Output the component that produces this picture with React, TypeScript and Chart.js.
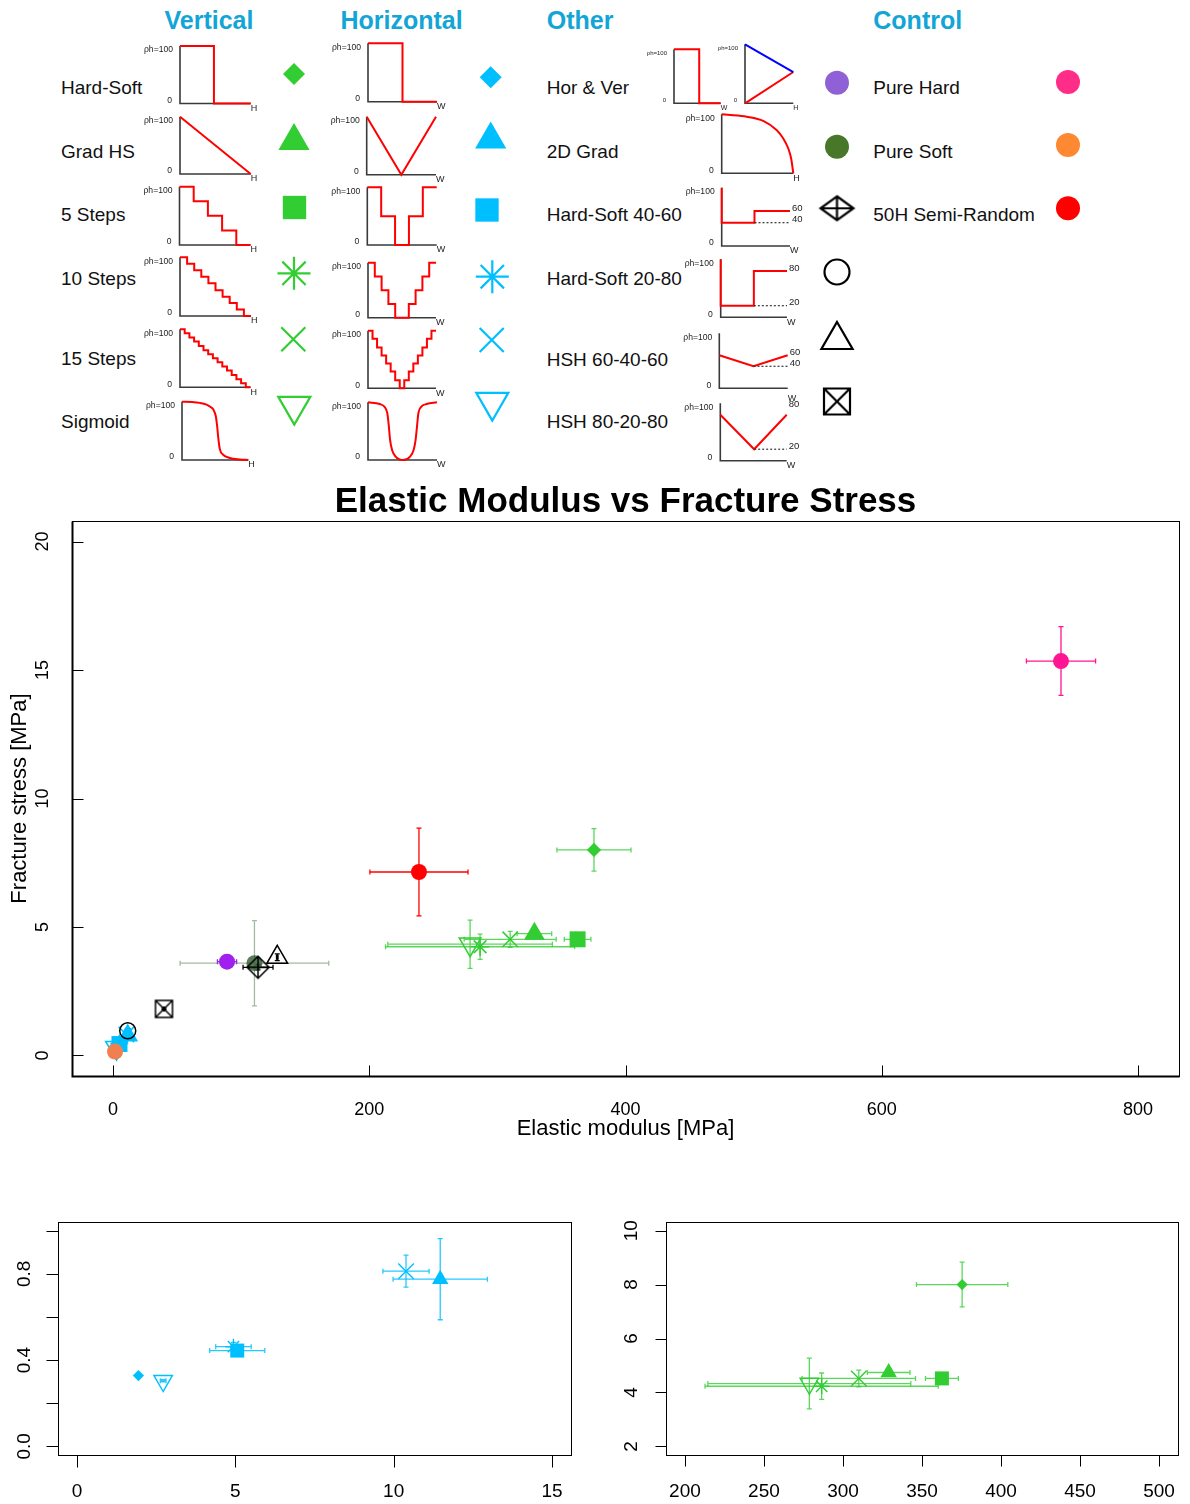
import React, { useEffect, useRef } from 'react';
import { Chart, registerables } from 'chart.js';

Chart.register(...registerables);

const FONT = '"Liberation Sans", Arial, Helvetica, sans-serif';

/* ============================ DATA ============================ */
const groupHeaders = ['Vertical', 'Horizontal', 'Other', 'Control'];
const verticalLabels = ['Hard-Soft', 'Grad HS', '5 Steps', '10 Steps', '15 Steps', 'Sigmoid'];
const otherLabels = ['Hor & Ver', '2D Grad', 'Hard-Soft 40-60', 'Hard-Soft 20-80', 'HSH 60-40-60', 'HSH 80-20-80'];
const controlLabels = ['Pure Hard', 'Pure Soft', '50H Semi-Random'];
const profileTopLabel = 'ρh=100';

// Elastic modulus [MPa] and fracture stress [MPa] (mean and error half-width)
const verticalModulus = [375.4, 328.9, 362.6, 286.5, 310.0, 278.7];
const verticalModulusErr = [28.9, 13.5, 10.4, 73.8, 35.9, 64.2];
const verticalStress = [8.0, 4.74, 4.52, 4.23, 4.52, 4.33];
const verticalStressErr = [0.83, 0.08, 0.08, 0.49, 0.31, 0.94];

const horizontalModulus = [1.94, 11.47, 5.06, 4.94, 10.39, 2.72];
const horizontalModulusErr = [0, 1.49, 0.87, 0.56, 0.73, 0.09];
const horizontalStress = [0.328, 0.775, 0.444, 0.462, 0.812, 0.304];
const horizontalStressErr = [0, 0.188, 0.01, 0.02, 0.074, 0.005];

const otherModulus = [89.0, 110.4, 113.2, 11.5, 128.2, 39.8];
const otherModulusErr = [7.5, 58.0, 11.7, 1.8, 0.6, 0.5];
const otherStress = [3.65, 3.59, 3.43, 0.96, 3.82, 1.81];
const otherStressErr = [0.05, 1.66, 0.1, 0.04, 0.13, 0.03];

const controlModulus = [739.9, 1.6, 238.8];
const controlModulusErr = [27.0, 0.5, 38.3];
const controlStress = [15.35, 0.15, 7.14];
const controlStressErr = [1.34, 0.02, 1.71];

// axis ticks
const mainXTicks = [0, 200, 400, 600, 800];
const mainYTicks = [0, 5, 10, 15, 20];
const horXTicks = [0, 5, 10, 15];
const horYTicks = [0, 0.2, 0.4, 0.6, 0.8, 1.0];
const horYTickLabels = ['0.0', '', '0.4', '', '0.8', ''];
const verXTicks = [200, 250, 300, 350, 400, 450, 500];
const verYTicks = [2, 4, 6, 8, 10];

// hardness profiles: x = fraction of H or W, y = ph (%)
const profVertHardSoft = { x: [0, 0.48, 0.48, 1], y: [100, 100, 0, 0] };
const profVertGrad = { x: [0, 1], y: [100, 0] };
const profVertSteps5 = [100, 75, 50, 25, 0];
const profVertSteps10 = [100, 89, 78, 67, 56, 44, 33, 22, 11, 0];
const profVertSteps15 = [100, 93, 86, 79, 71, 64, 57, 50, 43, 36, 29, 21, 14, 7, 0];
const profVertSigmoid = {
  x: [0, 0.15, 0.27, 0.37, 0.43, 0.47, 0.51, 0.53, 0.55, 0.57, 0.62, 0.72, 0.87, 1],
  y: [100, 99.5, 98, 95, 91, 87, 75, 58, 35, 19, 9, 3.5, 1, 0],
};
const profHorHardSoft = { x: [0, 0.5, 0.5, 1], y: [100, 100, 0, 0] };
const profHorGrad = { x: [0, 0.5, 1], y: [100, 0, 100] };
const profHorSteps5 = [100, 50, 0, 50, 100];
const profHorSteps10 = [100, 75, 50, 25, 0, 0, 25, 50, 75, 100];
const profHorSteps15 = [100, 86, 71, 57, 43, 29, 14, 0, 14, 29, 43, 57, 71, 86, 100];
const profHorSigmoid = {
  x: [0, 0.17, 0.24, 0.28, 0.3, 0.32, 0.35, 0.4, 0.51, 0.61, 0.66, 0.69, 0.71, 0.73, 0.77, 0.85, 1],
  y: [100, 97, 92, 81, 61, 35, 17, 6, 0, 6, 17, 35, 58, 81, 92, 97, 100],
};
const profHorVerA = { x: [0, 0.54, 0.54, 1], y: [100, 100, 0, 0] };
const profHorVerBTop = { x: [0, 1], y: [100, 53] };
const profHorVerBBottom = { x: [0, 1], y: [0, 53] };
const prof2DGrad = {
  x: [0, 0.12, 0.35, 0.58, 0.77, 0.86, 0.93, 0.97, 1],
  y: [100, 99, 96, 89, 73, 59, 42, 25, 0],
};
const profHS4060 = { x: [0, 0, 0.48, 0.48, 1], y: [100, 40, 40, 60, 60] };
const profHS4060Base = { x: [0.48, 1], y: [40, 40] };
const profHS2080 = { x: [0, 0, 0.5, 0.5, 1], y: [100, 20, 20, 80, 80] };
const profHS2080Base = { x: [0.5, 1], y: [20, 20] };
const profHSH604060 = { x: [0, 0.5, 1], y: [60, 40, 60] };
const profHSH604060Base = { x: [0.5, 1], y: [40, 40] };
const profHSH802080 = { x: [0, 0.51, 1], y: [80, 20, 80] };
const profHSH802080Base = { x: [0.51, 1], y: [20, 20] };

/* ============================ STYLES ============================ */
type Kind =
  | 'diamond' | 'triangle' | 'square' | 'asterisk' | 'cross' | 'downTriangle'
  | 'filledCircle' | 'openCircle' | 'openTriangle' | 'diamondPlus' | 'boxedCross';

const stepMarkers: Kind[] = ['diamond', 'triangle', 'square', 'asterisk', 'cross', 'downTriangle'];
const otherMarkers: Kind[] = ['filledCircle', 'filledCircle', 'diamondPlus', 'openCircle', 'openTriangle', 'boxedCross'];
const controlMarkers: Kind[] = ['filledCircle', 'filledCircle', 'filledCircle'];

const HEADER_COLOR = '#12A5D5';
const GREEN = '#32CD32';
const GREEN_ERR = 'rgba(50,205,50,0.8)';
const BLUE = '#00BFFF';
const BLUE_ERR = 'rgba(0,191,255,0.85)';
const otherColors = ['#A020F0', 'rgba(50,90,50,0.8)', '#000000', '#000000', '#000000', '#000000'];
const otherErrColors = ['#A020F0', 'rgba(90,130,90,0.55)', '#000000', '#000000', '#000000', '#000000'];
const controlColors = ['#FF1493', '#F08050', '#FF0000'];
const controlErrColors = ['#FF1493', '#F08050', '#FF0000'];
const otherLegendColors = ['#9061D6', '#48772A', '#000000', '#000000', '#000000', '#000000'];
const controlLegendColors = ['#FF2D87', '#FF8833', '#FF0000'];

type Sizes = { [k: string]: any };
const SIZE_MAIN: Sizes = {
  diamond: 7.2, triangle: 12, square: 11.3, asterisk: 9, cross: 10.9, downTriangle: 12.5,
  filledCircle: 8, openCircle: 8, openTriangle: 12, diamondPlus: [22, 22], boxedCross: [17, 17], lw: 1.5,
};
const SIZE_ZOOM: Sizes = {
  diamond: 5.6, triangle: 9.5, square: 9.9, asterisk: 8, cross: 11, downTriangle: 10.7,
  filledCircle: 8, openCircle: 8, openTriangle: 10, diamondPlus: [20, 20], boxedCross: [16, 16], lw: 1.4,
};
const SIZE_LEGEND: Sizes = {
  diamond: 11, triangle: 18, square: 16.5, asterisk: 16.5, cross: 17, downTriangle: 18.5,
  filledCircle: 12, openCircle: 12.5, openTriangle: 18, diamondPlus: [33, 24], boxedCross: [26, 26], lw: 2.2,
};

const glyphCache: { [k: string]: HTMLCanvasElement } = {};
function glyph(kind: string, w: number, h: number, lw: number, color: string) {
  const key = [kind, w, h, lw, color].join('|');
  if (glyphCache[key]) return glyphCache[key];
  const pad = Math.ceil(lw);
  const c = document.createElement('canvas');
  c.width = Math.round(w + 2 * pad);
  c.height = Math.round(h + 2 * pad);
  const g = c.getContext('2d')!;
  g.strokeStyle = color;
  g.lineWidth = lw;
  const x0 = pad, y0 = pad, x1 = pad + w, y1 = pad + h;
  const cx = (x0 + x1) / 2, cy = (y0 + y1) / 2;
  g.beginPath();
  if (kind === 'diamondPlus') {
    g.moveTo(cx, y0); g.lineTo(x1, cy); g.lineTo(cx, y1); g.lineTo(x0, cy); g.closePath();
    g.moveTo(cx, y0); g.lineTo(cx, y1);
    g.moveTo(x0, cy); g.lineTo(x1, cy);
  } else {
    g.rect(x0, y0, w, h);
    g.moveTo(x0, y0); g.lineTo(x1, y1);
    g.moveTo(x1, y0); g.lineTo(x0, y1);
  }
  g.stroke();
  glyphCache[key] = c;
  return c;
}

const NONE = 'rgba(0,0,0,0)';
function markerOptions(kind: Kind, s: Sizes, color: string) {
  const lw = s.lw;
  switch (kind) {
    case 'diamond': return { style: 'rectRot', r: s.diamond, rot: 0, bg: color, bc: color, bw: 0 };
    case 'triangle': return { style: 'triangle', r: s.triangle, rot: 0, bg: color, bc: color, bw: 0 };
    case 'square': return { style: 'rect', r: s.square, rot: 0, bg: color, bc: color, bw: 0 };
    case 'asterisk': return { style: 'star', r: s.asterisk, rot: 0, bg: NONE, bc: color, bw: lw };
    case 'cross': return { style: 'crossRot', r: s.cross, rot: 0, bg: NONE, bc: color, bw: lw };
    case 'downTriangle': return { style: 'triangle', r: s.downTriangle, rot: 180, bg: NONE, bc: color, bw: lw };
    case 'filledCircle': return { style: 'circle', r: s.filledCircle, rot: 0, bg: color, bc: color, bw: 0 };
    case 'openCircle': return { style: 'circle', r: s.openCircle, rot: 0, bg: NONE, bc: color, bw: lw };
    case 'openTriangle': return { style: 'triangle', r: s.openTriangle, rot: 0, bg: NONE, bc: color, bw: lw };
    case 'diamondPlus':
      return { style: glyph('diamondPlus', s.diamondPlus[0], s.diamondPlus[1], lw, color), r: 10, rot: 0, bg: NONE, bc: color, bw: 0 };
    default:
      return { style: glyph('boxedCross', s.boxedCross[0], s.boxedCross[1], lw, color), r: 10, rot: 0, bg: NONE, bc: color, bw: 0 };
  }
}

function scatterDataset(
  xs: number[], ys: number[], exs: number[], eys: number[],
  kinds: Kind[], colors: string[], errColors: string[], sizes: Sizes,
) {
  const m = kinds.map((k, i) => markerOptions(k, sizes, colors[i]));
  return {
    data: xs.map((x, i) => ({ x, y: ys[i] })),
    pointStyle: m.map((o) => o.style),
    pointRadius: m.map((o) => o.r),
    pointHoverRadius: m.map((o) => o.r),
    pointRotation: m.map((o) => o.rot),
    pointBackgroundColor: m.map((o) => o.bg),
    pointBorderColor: m.map((o) => o.bc),
    pointBorderWidth: m.map((o) => o.bw),
    showLine: false,
    clip: false,
    errX: exs,
    errY: eys,
    errColor: errColors,
  };
}

/* ============================ PLUGINS ============================ */
function makeErrorBarPlugin(lineWidth: number, cap: number) {
  return {
    id: 'errorBars',
    beforeDatasetsDraw(chart: any) {
      const ctx = chart.ctx;
      const xs = chart.scales.x, ys = chart.scales.y;
      ctx.save();
      ctx.lineWidth = lineWidth;
      chart.data.datasets.forEach((ds: any) => {
        ds.data.forEach((p: any, i: number) => {
          const ex = ds.errX ? ds.errX[i] : 0;
          const ey = ds.errY ? ds.errY[i] : 0;
          const px = xs.getPixelForValue(p.x), py = ys.getPixelForValue(p.y);
          ctx.strokeStyle = ds.errColor[i];
          ctx.beginPath();
          if (ex > 0) {
            const a = xs.getPixelForValue(p.x - ex), b = xs.getPixelForValue(p.x + ex);
            ctx.moveTo(a, py); ctx.lineTo(b, py);
            ctx.moveTo(a, py - cap); ctx.lineTo(a, py + cap);
            ctx.moveTo(b, py - cap); ctx.lineTo(b, py + cap);
          }
          if (ey > 0) {
            const a = ys.getPixelForValue(p.y - ey), b = ys.getPixelForValue(p.y + ey);
            ctx.moveTo(px, a); ctx.lineTo(px, b);
            ctx.moveTo(px - cap, a); ctx.lineTo(px + cap, a);
            ctx.moveTo(px - cap, b); ctx.lineTo(px + cap, b);
          }
          ctx.stroke();
        });
      });
      ctx.restore();
    },
  };
}

type AxesCfg = {
  xTicks: number[]; xTickLabels: string[]; yTicks: number[]; yTickLabels: string[];
  tickDir: number; tickLen: number; heavy: boolean; tickFont: number;
  xLabelBaseline: number; yLabelBaseline: number;
  title?: string; titleFont?: number; titleBaseline?: number;
  xTitle?: string; xTitleBaseline?: number; yTitle?: string; yTitleBaseline?: number; axisTitleFont?: number;
};

function makeAxesPlugin(cfg: AxesCfg) {
  return {
    id: 'rAxes',
    afterDraw(chart: any) {
      const ctx = chart.ctx;
      const a = chart.chartArea;
      const xs = chart.scales.x, ys = chart.scales.y;
      const L = Math.round(a.left) + 0.5, R = Math.round(a.right) + 0.5;
      const T = Math.round(a.top) + 0.5, B = Math.round(a.bottom) + 0.5;
      ctx.save();
      ctx.strokeStyle = '#000';
      ctx.fillStyle = '#000';
      ctx.lineWidth = 1;
      ctx.strokeRect(L, T, R - L, B - T);
      if (cfg.heavy) {
        ctx.lineWidth = 2;
        ctx.beginPath();
        ctx.moveTo(L, T); ctx.lineTo(L, B); ctx.lineTo(R, B);
        ctx.stroke();
      }
      ctx.lineWidth = 1;
      ctx.beginPath();
      cfg.xTicks.forEach((v) => {
        const px = Math.round(xs.getPixelForValue(v)) + 0.5;
        ctx.moveTo(px, B); ctx.lineTo(px, B + cfg.tickDir * cfg.tickLen);
      });
      cfg.yTicks.forEach((v) => {
        const py = Math.round(ys.getPixelForValue(v)) + 0.5;
        ctx.moveTo(L, py); ctx.lineTo(L - cfg.tickDir * cfg.tickLen, py);
      });
      ctx.stroke();

      ctx.font = `${cfg.tickFont}px ${FONT}`;
      ctx.textAlign = 'center';
      ctx.textBaseline = 'alphabetic';
      cfg.xTicks.forEach((v, i) => {
        const t = cfg.xTickLabels[i];
        if (t) ctx.fillText(t, xs.getPixelForValue(v), cfg.xLabelBaseline);
      });
      cfg.yTicks.forEach((v, i) => {
        const t = cfg.yTickLabels[i];
        if (!t) return;
        ctx.save();
        ctx.translate(cfg.yLabelBaseline, ys.getPixelForValue(v));
        ctx.rotate(-Math.PI / 2);
        ctx.fillText(t, 0, 0);
        ctx.restore();
      });
      if (cfg.title) {
        ctx.font = `bold ${cfg.titleFont}px ${FONT}`;
        ctx.fillText(cfg.title, (a.left + a.right) / 2, cfg.titleBaseline!);
      }
      if (cfg.xTitle) {
        ctx.font = `${cfg.axisTitleFont}px ${FONT}`;
        ctx.fillText(cfg.xTitle, (a.left + a.right) / 2, cfg.xTitleBaseline!);
      }
      if (cfg.yTitle) {
        ctx.font = `${cfg.axisTitleFont}px ${FONT}`;
        ctx.save();
        ctx.translate(cfg.yTitleBaseline!, (a.top + a.bottom) / 2);
        ctx.rotate(-Math.PI / 2);
        ctx.fillText(cfg.yTitle, 0, 0);
        ctx.restore();
      }
      ctx.restore();
    },
  };
}

/* ============================ COMPONENTS ============================ */
type Rect = { left: number; top: number; width: number; height: number };
type Box = { left: number; top: number; right: number; bottom: number };

function ScatterPanel(props: {
  canvas: Rect; box: Box; xRange: [number, number]; yRange: [number, number];
  axes: AxesCfg; datasets: any[]; errWidth: number; errCap: number;
}) {
  const ref = useRef<HTMLCanvasElement>(null);
  const { canvas, box } = props;
  useEffect(() => {
    const cfg = { ...props.axes };
    // convert page coordinates into canvas coordinates
    cfg.xLabelBaseline -= canvas.top;
    cfg.yLabelBaseline -= canvas.left;
    if (cfg.titleBaseline !== undefined) cfg.titleBaseline -= canvas.top;
    if (cfg.xTitleBaseline !== undefined) cfg.xTitleBaseline -= canvas.top;
    if (cfg.yTitleBaseline !== undefined) cfg.yTitleBaseline -= canvas.left;
    const chart = new Chart(ref.current as HTMLCanvasElement, {
      type: 'scatter',
      data: { datasets: props.datasets },
      options: {
        animation: false,
        responsive: false,
        devicePixelRatio: 1,
        events: [],
        layout: {
          autoPadding: false,
          padding: {
            left: box.left - canvas.left,
            top: box.top - canvas.top,
            right: canvas.left + canvas.width - box.right,
            bottom: canvas.top + canvas.height - box.bottom,
          },
        },
        scales: {
          x: { type: 'linear', min: props.xRange[0], max: props.xRange[1], display: false, bounds: 'data' },
          y: { type: 'linear', min: props.yRange[0], max: props.yRange[1], display: false, bounds: 'data' },
        },
        plugins: { legend: { display: false }, tooltip: { enabled: false }, title: { display: false } },
      } as any,
      plugins: [makeErrorBarPlugin(props.errWidth, props.errCap), makeAxesPlugin(cfg)],
    });
    return () => chart.destroy();
  }, []);
  return (
    <canvas
      ref={ref}
      width={canvas.width}
      height={canvas.height}
      style={{ position: 'absolute', left: canvas.left, top: canvas.top, width: canvas.width, height: canvas.height }}
    />
  );
}

type ProfileLine = { x: number[]; y: number[]; color?: string; dash?: number[]; width?: number; smooth?: boolean };
function stepLine(levels: number[]): ProfileLine {
  const x: number[] = [], y: number[] = [];
  const n = levels.length;
  levels.forEach((v, i) => {
    x.push(i / n, (i + 1) / n);
    y.push(v, v);
  });
  return { x, y };
}

function MiniProfile(props: {
  x0: number; x1: number; yTop: number; yBot: number; lines: ProfileLine[]; letter: string;
  letterDy?: number; levels?: { v: number; text: string; dy?: number }[]; tiny?: number; letterSize?: number;
}) {
  const ref = useRef<HTMLCanvasElement>(null);
  const L = Math.floor(props.x0 - 50), T = Math.floor(props.yTop - 12);
  const W = Math.ceil(props.x1 + 26) - L, H = Math.ceil(props.yBot + 18) - T;
  useEffect(() => {
    const tiny = props.tiny || 8.6;
    const letterSize = props.letterSize || 9;
    const letterDy = props.letterDy === undefined ? 5 : props.letterDy;
    const plugin = {
      id: 'miniAxes',
      beforeDatasetsDraw(chart: any) {
        const ctx = chart.ctx, a = chart.chartArea;
        ctx.save();
        ctx.strokeStyle = '#3a3a3a';
        ctx.lineWidth = 1.6;
        ctx.beginPath();
        ctx.moveTo(a.left, a.top); ctx.lineTo(a.left, a.bottom); ctx.lineTo(a.right, a.bottom);
        ctx.stroke();
        ctx.restore();
      },
      afterDraw(chart: any) {
        const ctx = chart.ctx, a = chart.chartArea, ys = chart.scales.y;
        ctx.save();
        ctx.fillStyle = '#222';
        ctx.textBaseline = 'middle';
        ctx.textAlign = 'right';
        ctx.font = `${tiny}px ${FONT}`;
        ctx.fillText(profileTopLabel, a.left - 7, a.top + 4);
        ctx.fillText('0', a.left - 8, a.bottom - 3);
        ctx.textAlign = 'left';
        ctx.font = `${letterSize}px ${FONT}`;
        ctx.fillText(props.letter, a.right, a.bottom + letterDy);
        ctx.font = `9.5px ${FONT}`;
        (props.levels || []).forEach((l) => {
          ctx.fillText(l.text, a.right + 2, ys.getPixelForValue(l.v) - 3 + (l.dy || 0));
        });
        ctx.restore();
      },
    };
    const chart = new Chart(ref.current as HTMLCanvasElement, {
      type: 'scatter',
      data: {
        datasets: props.lines.map((l) => ({
          data: l.x.map((x, i) => ({ x, y: l.y[i] })),
          showLine: true,
          borderColor: l.color || '#FF0000',
          borderWidth: l.width || 2,
          borderDash: l.dash || [],
          pointRadius: 0,
          tension: l.smooth ? 0.4 : 0,
          cubicInterpolationMode: l.smooth ? 'monotone' : 'default',
          clip: false,
          fill: false,
        })),
      },
      options: {
        animation: false,
        responsive: false,
        devicePixelRatio: 1,
        events: [],
        layout: {
          autoPadding: false,
          padding: { left: props.x0 - L, top: props.yTop - T, right: L + W - props.x1, bottom: T + H - props.yBot },
        },
        scales: {
          x: { type: 'linear', min: 0, max: 1, display: false, bounds: 'data' },
          y: { type: 'linear', min: 0, max: 100, display: false, bounds: 'data' },
        },
        plugins: { legend: { display: false }, tooltip: { enabled: false } },
      } as any,
      plugins: [plugin],
    });
    return () => chart.destroy();
  }, []);
  return (
    <canvas ref={ref} width={W} height={H} style={{ position: 'absolute', left: L, top: T, width: W, height: H }} />
  );
}

function LegendMarker(props: { cx: number; cy: number; kind: Kind; color: string }) {
  const ref = useRef<HTMLCanvasElement>(null);
  const S = 64;
  const L = Math.round(props.cx) - S / 2, T = Math.round(props.cy) - S / 2;
  useEffect(() => {
    const m = markerOptions(props.kind, SIZE_LEGEND, props.color);
    const chart = new Chart(ref.current as HTMLCanvasElement, {
      type: 'scatter',
      data: {
        datasets: [{
          data: [{ x: 0, y: 0 }],
          pointStyle: m.style as any,
          pointRadius: m.r,
          pointRotation: m.rot,
          pointBackgroundColor: m.bg,
          pointBorderColor: m.bc,
          pointBorderWidth: m.bw,
          clip: false,
        }],
      },
      options: {
        animation: false,
        responsive: false,
        devicePixelRatio: 1,
        events: [],
        layout: {
          autoPadding: false,
          padding: {
            left: props.cx - L - 10, right: S - (props.cx - L + 10),
            top: props.cy - T - 10, bottom: S - (props.cy - T + 10),
          },
        },
        scales: {
          x: { type: 'linear', min: -1, max: 1, display: false },
          y: { type: 'linear', min: -1, max: 1, display: false },
        },
        plugins: { legend: { display: false }, tooltip: { enabled: false } },
      } as any,
    });
    return () => chart.destroy();
  }, []);
  return <canvas ref={ref} width={S} height={S} style={{ position: 'absolute', left: L, top: T, width: S, height: S }} />;
}

function Txt(props: { x: number; baseline: number; size: number; bold?: boolean; color?: string; children: any }) {
  return (
    <div
      style={{
        position: 'absolute', left: props.x, top: props.baseline - 0.8465 * props.size,
        fontSize: props.size, lineHeight: `${props.size}px`, fontFamily: FONT,
        fontWeight: props.bold ? 700 : 400, color: props.color || '#111', whiteSpace: 'nowrap',
      }}
    >
      {props.children}
    </div>
  );
}

/* ============================ APP ============================ */
export default function App() {
  const mainDatasets = [
    scatterDataset(otherModulus, otherStress, otherModulusErr, otherStressErr, otherMarkers, otherColors, otherErrColors, SIZE_MAIN),
    scatterDataset(controlModulus, controlStress, controlModulusErr, controlStressErr, controlMarkers, controlColors, controlErrColors, SIZE_MAIN),
    scatterDataset(verticalModulus, verticalStress, verticalModulusErr, verticalStressErr, stepMarkers,
      verticalModulus.map(() => GREEN), verticalModulus.map(() => GREEN_ERR), SIZE_MAIN),
    scatterDataset(horizontalModulus, horizontalStress, horizontalModulusErr, horizontalStressErr, stepMarkers,
      horizontalModulus.map(() => BLUE), horizontalModulus.map(() => BLUE_ERR), SIZE_MAIN),
  ];
  const horDatasets = [
    scatterDataset(horizontalModulus, horizontalStress, horizontalModulusErr, horizontalStressErr, stepMarkers,
      horizontalModulus.map(() => BLUE), horizontalModulus.map(() => BLUE_ERR), SIZE_ZOOM),
  ];
  const verDatasets = [
    scatterDataset(verticalModulus, verticalStress, verticalModulusErr, verticalStressErr, stepMarkers,
      verticalModulus.map(() => GREEN), verticalModulus.map(() => GREEN_ERR), SIZE_ZOOM),
  ];

  const headerX = [164.5, 340.5, 546.7, 873.3];
  const vertBaselines = [94.3, 158, 221, 285, 365, 428];
  const otherBaselines = [94.3, 157.7, 221, 285, 366, 428.3];
  const controlBaselines = [94.3, 158.3, 221];

  const vertMarkerX = [294, 294, 294.5, 294, 293.3, 294.3];
  const vertMarkerY = [74, 141, 207.5, 273.3, 339.3, 406.1];
  const horMarkerX = [490.7, 490.7, 487, 492.3, 491.7, 492.3];
  const horMarkerY = [77.3, 139.4, 210, 276.7, 340, 402.1];
  const otherMarkerY = [82.7, 146.7, 208.3, 272, 340, 401.5];
  const controlMarkerY = [82, 145, 208.3];

  return (
    <div style={{ position: 'absolute', left: 0, top: 0, width: 1190, height: 1504, background: '#fff', overflow: 'hidden' }}>
      {groupHeaders.map((h, i) => (
        <Txt key={h} x={headerX[i]} baseline={29.5} size={25} bold color={HEADER_COLOR}>{h}</Txt>
      ))}
      {verticalLabels.map((t, i) => <Txt key={t} x={61} baseline={vertBaselines[i]} size={19}>{t}</Txt>)}
      {otherLabels.map((t, i) => <Txt key={t} x={546.7} baseline={otherBaselines[i]} size={19}>{t}</Txt>)}
      {controlLabels.map((t, i) => <Txt key={t} x={873.3} baseline={controlBaselines[i]} size={19}>{t}</Txt>)}

      {/* vertical profiles */}
      <MiniProfile x0={180} x1={250.7} yTop={46} yBot={103.5} lines={[profVertHardSoft]} letter="H" />
      <MiniProfile x0={180} x1={250.7} yTop={116.7} yBot={174} lines={[profVertGrad]} letter="H" />
      <MiniProfile x0={179.5} x1={250.5} yTop={186.7} yBot={245} lines={[stepLine(profVertSteps5)]} letter="H" />
      <MiniProfile x0={180} x1={251} yTop={257.3} yBot={316} lines={[stepLine(profVertSteps10)]} letter="H" />
      <MiniProfile x0={180} x1={250.5} yTop={329.3} yBot={387.3} lines={[stepLine(profVertSteps15)]} letter="H" />
      <MiniProfile x0={182} x1={248.3} yTop={401.7} yBot={460} lines={[{ ...profVertSigmoid, smooth: true }]} letter="H" />

      {/* horizontal profiles */}
      <MiniProfile x0={368} x1={437} yTop={43.3} yBot={101.7} lines={[profHorHardSoft]} letter="W" />
      <MiniProfile x0={366.7} x1={436} yTop={116.7} yBot={174.7} lines={[profHorGrad]} letter="W" />
      <MiniProfile x0={367.3} x1={436.7} yTop={187.3} yBot={245} lines={[stepLine(profHorSteps5)]} letter="W" />
      <MiniProfile x0={368} x1={436} yTop={262.7} yBot={317.7} lines={[stepLine(profHorSteps10)]} letter="W" />
      <MiniProfile x0={368} x1={436} yTop={330.7} yBot={388.3} lines={[stepLine(profHorSteps15)]} letter="W" />
      <MiniProfile x0={368} x1={437} yTop={402.3} yBot={460} lines={[{ ...profHorSigmoid, smooth: true }]} letter="W" />

      {/* other profiles */}
      <MiniProfile x0={674} x1={720.7} yTop={49.3} yBot={103.3} lines={[profHorVerA]} letter="W" tiny={6} letterSize={7} />
      <MiniProfile x0={745} x1={793.3} yTop={44.3} yBot={103.3}
        lines={[{ ...profHorVerBTop, color: '#0000FF' }, profHorVerBBottom]} letter="H" tiny={6} letterSize={7} />
      <MiniProfile x0={721.7} x1={793.3} yTop={114.3} yBot={173.3} lines={[{ ...prof2DGrad, smooth: true }]} letter="H" />
      <MiniProfile x0={721.7} x1={790} yTop={187.7} yBot={246}
        lines={[{ ...profHS4060Base, color: '#333', dash: [2, 2], width: 1.2 }, profHS4060]} letter="W"
        levels={[{ v: 60, text: '60' }, { v: 40, text: '40' }]} />
      <MiniProfile x0={720.7} x1={787} yTop={259.3} yBot={317.3}
        lines={[{ ...profHS2080Base, color: '#333', dash: [2, 2], width: 1.2 }, profHS2080]} letter="W"
        levels={[{ v: 80, text: '80' }, { v: 20, text: '20' }]} />
      <MiniProfile x0={719.3} x1={787.7} yTop={333.3} yBot={388.3}
        lines={[{ ...profHSH604060Base, color: '#333', dash: [2, 2], width: 1.2 }, profHSH604060]} letter="W" letterDy={10}
        levels={[{ v: 60, text: '60' }, { v: 40, text: '40' }]} />
      <MiniProfile x0={720.3} x1={786.7} yTop={403.3} yBot={460.7}
        lines={[{ ...profHSH802080Base, color: '#333', dash: [2, 2], width: 1.2 }, profHSH802080]} letter="W"
        levels={[{ v: 80, text: '80', dy: -7 }, { v: 20, text: '20' }]} />

      {/* legend markers */}
      {stepMarkers.map((k, i) => <LegendMarker key={'v' + i} cx={vertMarkerX[i]} cy={vertMarkerY[i]} kind={k} color={GREEN} />)}
      {stepMarkers.map((k, i) => <LegendMarker key={'h' + i} cx={horMarkerX[i]} cy={horMarkerY[i]} kind={k} color={BLUE} />)}
      {otherMarkers.map((k, i) => <LegendMarker key={'o' + i} cx={837} cy={otherMarkerY[i]} kind={k} color={otherLegendColors[i]} />)}
      {controlMarkers.map((k, i) => <LegendMarker key={'c' + i} cx={1068} cy={controlMarkerY[i]} kind={k} color={controlLegendColors[i]} />)}

      <ScatterPanel
        canvas={{ left: 0, top: 470, width: 1190, height: 690 }}
        box={{ left: 72, top: 521, right: 1179, bottom: 1076 }}
        xRange={[-32, 832]}
        yRange={[-0.8, 20.8]}
        datasets={mainDatasets}
        errWidth={1.3}
        errCap={2.5}
        axes={{
          xTicks: mainXTicks, xTickLabels: mainXTicks.map(String),
          yTicks: mainYTicks, yTickLabels: mainYTicks.map(String),
          tickDir: -1, tickLen: 11, heavy: true, tickFont: 18,
          xLabelBaseline: 1115, yLabelBaseline: 48,
          title: 'Elastic Modulus vs Fracture Stress', titleFont: 35, titleBaseline: 512,
          xTitle: 'Elastic modulus [MPa]', xTitleBaseline: 1135,
          yTitle: 'Fracture stress [MPa]', yTitleBaseline: 26, axisTitleFont: 22,
        }}
      />
      <ScatterPanel
        canvas={{ left: 0, top: 1190, width: 595, height: 314 }}
        box={{ left: 58, top: 1222, right: 571, bottom: 1455 }}
        xRange={[-0.6, 15.6]}
        yRange={[-0.04, 1.04]}
        datasets={horDatasets}
        errWidth={1.3}
        errCap={2.5}
        axes={{
          xTicks: horXTicks, xTickLabels: horXTicks.map(String),
          yTicks: horYTicks, yTickLabels: horYTickLabels,
          tickDir: 1, tickLen: 12, heavy: false, tickFont: 19,
          xLabelBaseline: 1497, yLabelBaseline: 30,
        }}
      />
      <ScatterPanel
        canvas={{ left: 595, top: 1190, width: 595, height: 314 }}
        box={{ left: 666, top: 1222, right: 1178, bottom: 1455 }}
        xRange={[188, 512]}
        yRange={[1.68, 10.32]}
        datasets={verDatasets}
        errWidth={1.3}
        errCap={2.5}
        axes={{
          xTicks: verXTicks, xTickLabels: verXTicks.map(String),
          yTicks: verYTicks, yTickLabels: verYTicks.map(String),
          tickDir: 1, tickLen: 11, heavy: false, tickFont: 19,
          xLabelBaseline: 1497, yLabelBaseline: 637,
        }}
      />
    </div>
  );
}
